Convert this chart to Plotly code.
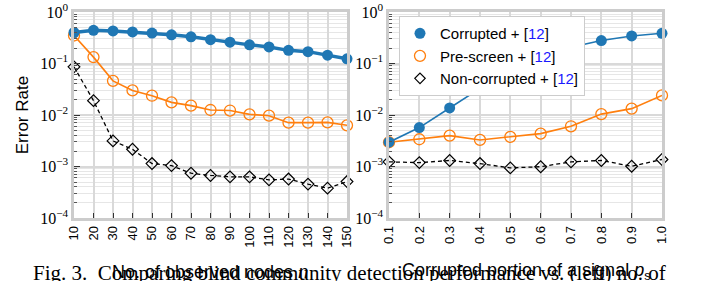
import plotly.graph_objects as go
from plotly.subplots import make_subplots

# ---- data ----
n_nodes = [10, 20, 30, 40, 50, 60, 70, 80, 90, 100, 110, 120, 130, 140, 150]
left_corrupted = [0.40, 0.44, 0.43, 0.41, 0.39, 0.36, 0.33, 0.29, 0.26, 0.23, 0.21, 0.18, 0.17, 0.145, 0.123]
left_prescreen = [0.35, 0.133, 0.046, 0.030, 0.0237, 0.0176, 0.0152, 0.0125, 0.0122, 0.0103, 0.0097, 0.0071, 0.0071, 0.0072, 0.0063]
left_noncorrupted = [0.086, 0.019, 0.00314, 0.00216, 0.00114, 0.00104, 0.00074, 0.00067, 0.00063, 0.00063, 0.00055, 0.00057, 0.000455, 0.00038, 0.00051]

p_s = [0.1, 0.2, 0.3, 0.4, 0.5, 0.6, 0.7, 0.8, 0.9, 1.0]
right_corrupted = [0.00296, 0.0057, 0.0137, 0.0328, 0.065, 0.12, 0.207, 0.279, 0.343, 0.386]
right_prescreen = [0.00296, 0.00338, 0.00398, 0.00328, 0.00375, 0.00435, 0.00604, 0.0104, 0.0133, 0.024]
right_noncorrupted = [0.00123, 0.00119, 0.00131, 0.00114, 0.00094, 0.00099, 0.00123, 0.00131, 0.00101, 0.00137]

x_left_ticks = ["10", "20", "30", "40", "50", "60", "70", "80", "90", "100", "110", "120", "130", "140", "150"]
x_right_ticks = ["0.1", "0.2", "0.3", "0.4", "0.5", "0.6", "0.7", "0.8", "0.9", "1.0"]
y_tickvals = [1e-4, 1e-3, 1e-2, 1e-1, 1]
y_ticktext = ["10<sup>−4</sup>", "10<sup>−3</sup>", "10<sup>−2</sup>", "10<sup>−1</sup>", "10<sup>0</sup>"]

legend_names = ["Corrupted + [<span style='color:#1a1aff'>12</span>]",
                "Pre-screen + [<span style='color:#1a1aff'>12</span>]",
                "Non-corrupted + [<span style='color:#1a1aff'>12</span>]"]

BLUE = "#1f77b4"
ORANGE = "#ff7f0e"
SANS = "Liberation Sans, Arial, sans-serif"
SERIF = "Liberation Serif, Times New Roman, serif"

fig = make_subplots(rows=1, cols=2, horizontal_spacing=0.0714)

# left panel
fig.add_trace(go.Scatter(x=n_nodes, y=left_noncorrupted, mode="lines+markers",
                         line=dict(color="black", width=1.3, dash="4px,3px"),
                         marker=dict(symbol="diamond-open", size=9, color="black", line=dict(width=1.2)),
                         showlegend=False, cliponaxis=False), row=1, col=1)
fig.add_trace(go.Scatter(x=n_nodes, y=left_prescreen, mode="lines+markers",
                         line=dict(color=ORANGE, width=1.6),
                         marker=dict(symbol="circle-open", size=11, color=ORANGE, line=dict(width=1.3)),
                         showlegend=False, cliponaxis=False), row=1, col=1)
fig.add_trace(go.Scatter(x=n_nodes, y=left_corrupted, mode="lines+markers",
                         line=dict(color=BLUE, width=3.5),
                         marker=dict(symbol="circle", size=11, color=BLUE),
                         showlegend=False, cliponaxis=False), row=1, col=1)

# right panel
fig.add_trace(go.Scatter(x=p_s, y=right_noncorrupted, mode="lines+markers",
                         line=dict(color="black", width=1.3, dash="4px,3px"),
                         marker=dict(symbol="diamond-open", size=9, color="black", line=dict(width=1.2)),
                         showlegend=False, cliponaxis=False), row=1, col=2)
fig.add_trace(go.Scatter(x=p_s, y=right_prescreen, mode="lines+markers",
                         line=dict(color=ORANGE, width=1.6),
                         marker=dict(symbol="circle-open", size=11, color=ORANGE, line=dict(width=1.3)),
                         showlegend=False, cliponaxis=False), row=1, col=2)
fig.add_trace(go.Scatter(x=p_s, y=right_corrupted, mode="lines+markers",
                         line=dict(color=BLUE, width=1.6),
                         marker=dict(symbol="circle", size=11, color=BLUE),
                         showlegend=False, cliponaxis=False), row=1, col=2)

# legend entries (marker only)
fig.add_trace(go.Scatter(x=[None], y=[None], mode="markers", name=legend_names[0],
                         marker=dict(symbol="circle", size=11, color=BLUE)), row=1, col=2)
fig.add_trace(go.Scatter(x=[None], y=[None], mode="markers", name=legend_names[1],
                         marker=dict(symbol="circle-open", size=11, color=ORANGE, line=dict(width=1.3))), row=1, col=2)
fig.add_trace(go.Scatter(x=[None], y=[None], mode="markers", name=legend_names[2],
                         marker=dict(symbol="diamond-open", size=8, color="black", line=dict(width=1.2))), row=1, col=2)

common_x = dict(showline=True, mirror=True, linecolor="#cccccc", linewidth=2.5,
                showgrid=True, gridcolor="#d9d9d9", gridwidth=1.5,
                ticks="inside", ticklen=5, tickcolor="#333333", tickwidth=1,
                tickangle=-90, tickfont=dict(family=SANS, size=13, color="black"),
                zeroline=False, tickmode="array", automargin=False)
fig.update_xaxes(**common_x, range=[10, 150], tickvals=n_nodes, ticktext=x_left_ticks, row=1, col=1)
fig.update_xaxes(**common_x, range=[0.1, 1.0], tickvals=p_s, ticktext=x_right_ticks, row=1, col=2)

common_y = dict(type="log", range=[-4, 0], showline=True, mirror=True, linecolor="#cccccc", linewidth=2.5,
                showgrid=True, gridcolor="#d9d9d9", gridwidth=1.5,
                tickmode="array", tickvals=y_tickvals, ticktext=y_ticktext,
                ticks="inside", ticklen=6, tickcolor="#333333", tickwidth=1,
                tickfont=dict(family=SERIF, size=16, color="black"),
                minor=dict(dtick="D1", showgrid=True, gridcolor="#e6e6e6", gridwidth=1,
                           ticks="inside", ticklen=3, tickcolor="#555555"),
                zeroline=False, automargin=False)
fig.update_yaxes(**common_y, row=1, col=1)
fig.update_yaxes(**common_y, row=1, col=2)

fig.update_layout(
    width=706, height=281,
    margin=dict(l=74, r=44, t=12, b=63),
    paper_bgcolor="white", plot_bgcolor="white",
    font=dict(family=SANS, color="black"),
    legend=dict(x=0.5527, y=0.98, xanchor="left", yanchor="top",
                bgcolor="white", bordercolor="#cccccc", borderwidth=1,
                font=dict(family=SANS, size=15, color="black"),
                tracegroupgap=0, itemsizing="trace"),
    annotations=[
        dict(text="Error Rate", xref="paper", yref="paper", x=-0.088, y=0.5, textangle=-90,
             showarrow=False, font=dict(family=SANS, size=17), xanchor="center", yanchor="middle"),
        dict(text="No. of observed nodes <i>n</i>", xref="paper", yref="paper", x=0.2321, y=-0.262,
             showarrow=False, font=dict(family=SANS, size=18), xanchor="center", yanchor="middle"),
        dict(text="Corrupted portion of a signal <i>p</i><sub>s</sub>", xref="paper", yref="paper",
             x=0.7679, y=-0.262, showarrow=False, font=dict(family=SANS, size=18),
             xanchor="center", yanchor="middle"),
        dict(text="Fig. 3.  Comparing blind community detection performance vs. (left) no. of",
             xref="paper", yref="paper", x=0.469, y=-0.2, showarrow=False,
             font=dict(family=SERIF, size=21), xanchor="center", yanchor="top"),
    ],
)

fig.write_html("out.html", config={"displayModeBar": False},
               post_script="document.body.style.margin='0px';")
